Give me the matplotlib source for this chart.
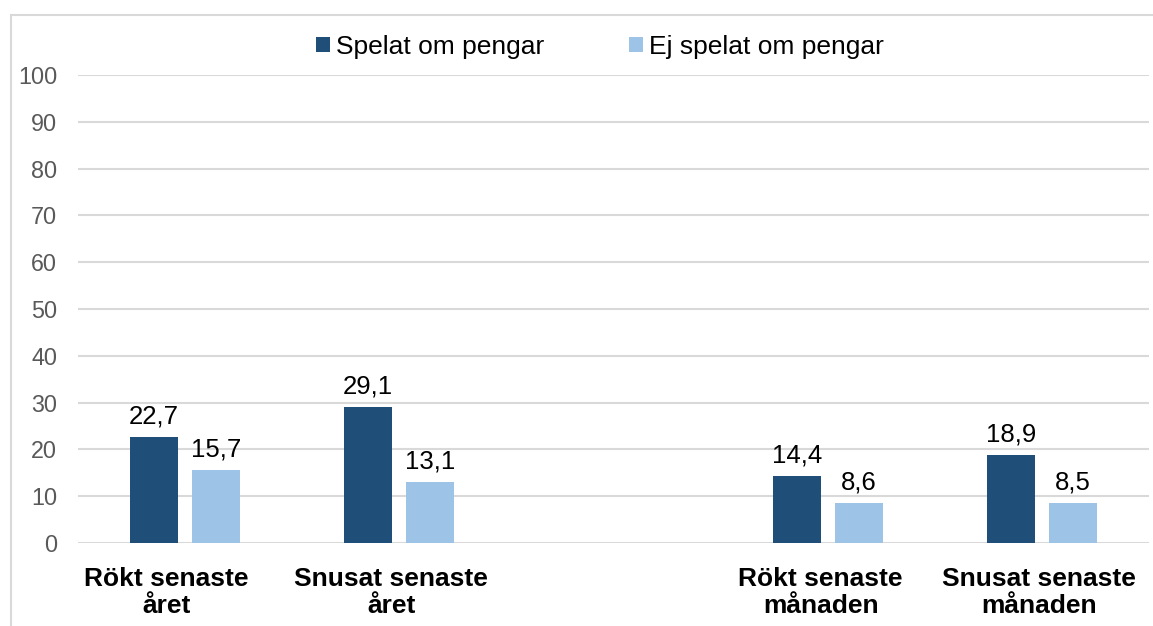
import matplotlib.pyplot as plt
import matplotlib.patches as patches
import matplotlib.transforms as mtransforms
import numpy as np

plt.rcParams['font.family'] = ['Liberation Sans', 'DejaVu Sans']

# data
categories = ["Rökt senaste\nåret", "Snusat senaste\nåret", "", "Rökt senaste\nmånaden", "Snusat senaste\nmånaden"]
positions = [0, 1, 2, 3, 4]
spelat = [22.7, 29.1, np.nan, 14.4, 18.9]
ej_spelat = [15.7, 13.1, np.nan, 8.6, 8.5]
series_names = ["Spelat om pengar", "Ej spelat om pengar"]
yticks = [0, 10, 20, 30, 40, 50, 60, 70, 80, 90, 100]

dark = '#1F4E79'
light = '#9DC3E6'
grid_col = '#D9D9D9'

fig = plt.figure(figsize=(11.53, 6.26), dpi=100)
ax = fig.add_axes([78 / 1153, 83 / 626, 1071 / 1153, 468 / 626])

# outer frame of the chart area (only left and top visible)
frame = patches.Rectangle((11 / 1153, -0.1), 1.2, 1.1 - 15 / 626, transform=fig.transFigure,
                          fill=False, edgecolor=grid_col, linewidth=1.5, zorder=0)
fig.patches.append(frame)

x = np.array(positions)
w = 0.224
off = 0.145
b1 = ax.bar(x - off, spelat, w, color=dark, label=series_names[0], zorder=3)
b2 = ax.bar(x + off, ej_spelat, w, color=light, label=series_names[1], zorder=3)

for bars, vals in [(b1, spelat), (b2, ej_spelat)]:
    for r, v in zip(bars, vals):
        if np.isnan(v):
            continue
        ax.annotate(f"{v:.1f}".replace('.', ','), (r.get_x() + r.get_width() / 2, v),
                    xytext=(0, 6), textcoords='offset points', ha='center', va='bottom',
                    fontsize=18.5, color='black')

ax.set_ylim(0, 100)
ax.set_xlim(-0.5, 4.5)
ax.set_yticks(yticks)
ax.set_yticklabels([str(t) for t in yticks], fontsize=16.8, color='#595959')
ax.set_xticks(positions)
ax.set_xticklabels(categories, fontsize=19, fontweight='bold', color='black', linespacing=1.2)
ax.tick_params(length=0)
ax.tick_params(axis='y', pad=15)
ax.tick_params(axis='x', pad=17)
ax.grid(axis='y', color=grid_col, linewidth=1.5, zorder=0)
for s in ax.spines.values():
    s.set_visible(False)

# Excel nudges the category labels a little to the left
nudge = [-19, -8, 0, -7, -3]
for lab, dx in zip(ax.get_xticklabels(), nudge):
    lab.set_transform(lab.get_transform() + mtransforms.Affine2D().translate(dx, 0))

leg = fig.legend(loc='center', bbox_to_anchor=(600 / 1153, 1 - 47 / 626), ncol=2, frameon=False,
                 fontsize=19, handlelength=0.53, handleheight=0.53, handletextpad=0.25,
                 columnspacing=3.2)

fig.savefig('out.png', dpi=100)
